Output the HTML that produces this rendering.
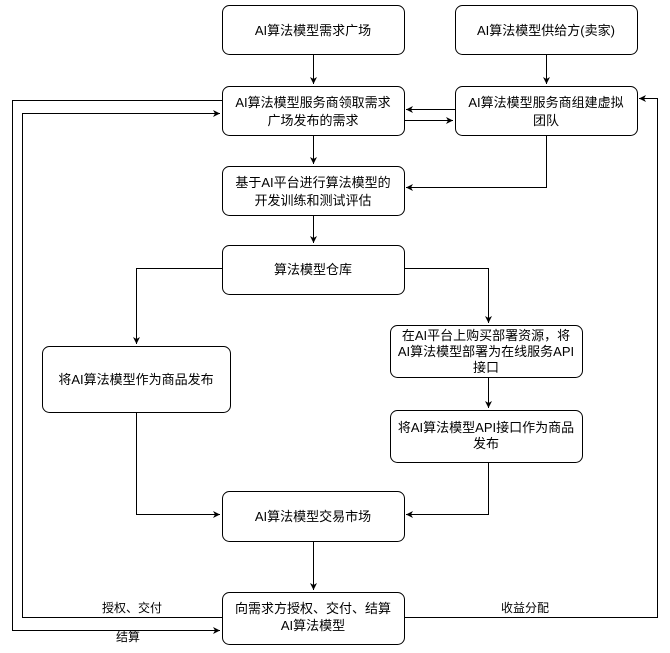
<!DOCTYPE html>
<html><head><meta charset="utf-8"><style>
body{margin:0;background:#fff;}
text{font-family:"Liberation Sans","Noto Sans CJK SC",sans-serif;font-size:13px;fill:#000;text-anchor:middle;}
</style></head><body>
<svg width="670" height="648" viewBox="0 0 670 648" xmlns="http://www.w3.org/2000/svg">
<defs><marker id="a" markerWidth="8" markerHeight="8" refX="7" refY="4" orient="auto" markerUnits="userSpaceOnUse"><path d="M0,0.5 L7,4 L0,7.5 L2,4 Z" fill="#000"/></marker></defs>
<g fill="#fff" stroke="#000" stroke-width="1">
<rect x="222.5" y="5.5" width="182" height="49" rx="7"/>
<rect x="455.5" y="5.5" width="182" height="49" rx="7"/>
<rect x="222.5" y="86.5" width="182" height="49" rx="7"/>
<rect x="455.5" y="86.5" width="182" height="49" rx="7"/>
<rect x="222.5" y="166.5" width="182" height="49" rx="7"/>
<rect x="222.5" y="245.5" width="182" height="49" rx="7"/>
<rect x="42.5" y="346.5" width="188" height="66" rx="7"/>
<rect x="390.5" y="325.5" width="192" height="52" rx="7"/>
<rect x="390.5" y="410.5" width="192" height="52" rx="7"/>
<rect x="222.5" y="491.5" width="182" height="50" rx="7"/>
<rect x="222.5" y="592.5" width="182" height="52" rx="7"/>
</g>
<g fill="none" stroke="#000" stroke-width="1" marker-end="url(#a)">
<path d="M313.5,55 V84"/>
<path d="M546.5,55 V84"/>
<path d="M455,109.5 H406"/>
<path d="M405,120.5 H453"/>
<path d="M546.5,136 V187.5 H406"/>
<path d="M313.5,136 V164"/>
<path d="M313.5,216 V243"/>
<path d="M222,268.5 H136.5 V344"/>
<path d="M404,268.5 H488.5 V323"/>
<path d="M488.5,378 V408"/>
<path d="M136.5,413 V514.5 H220"/>
<path d="M488.5,463 V514.5 H406"/>
<path d="M313.5,542 V590"/>
<path d="M222,100.5 H12.5 V630.5 H220"/>
<path d="M222,617.5 H22.5 V113.5 H220"/>
<path d="M405,617.5 H657.5 V98.5 H639"/>
</g>
<text x="313" y="35">AI算法模型需求广场</text>
<text x="546" y="35">AI算法模型供给方(卖家)</text>
<text x="313" y="107">AI算法模型服务商领取需求</text>
<text x="313" y="125">广场发布的需求</text>
<text x="546" y="107">AI算法模型服务商组建虚拟</text>
<text x="546" y="125">团队</text>
<text x="313" y="187">基于AI平台进行算法模型的</text>
<text x="313" y="205">开发训练和测试评估</text>
<text x="313" y="274">算法模型仓库</text>
<text x="136" y="384">将AI算法模型作为商品发布</text>
<text x="486" y="340">在AI平台上购买部署资源，将</text>
<text x="486" y="356">AI算法模型部署为在线服务API</text>
<text x="486" y="372">接口</text>
<text x="486" y="432">将AI算法模型API接口作为商品</text>
<text x="486" y="448">发布</text>
<text x="313" y="521">AI算法模型交易市场</text>
<text x="313" y="613">向需求方授权、交付、结算</text>
<text x="313" y="630">AI算法模型</text>
<text x="132" y="612" style="font-size:12px">授权、交付</text>
<text x="128" y="641" style="font-size:12px">结算</text>
<text x="525" y="612" style="font-size:12px">收益分配</text>
</svg>
</body></html>
